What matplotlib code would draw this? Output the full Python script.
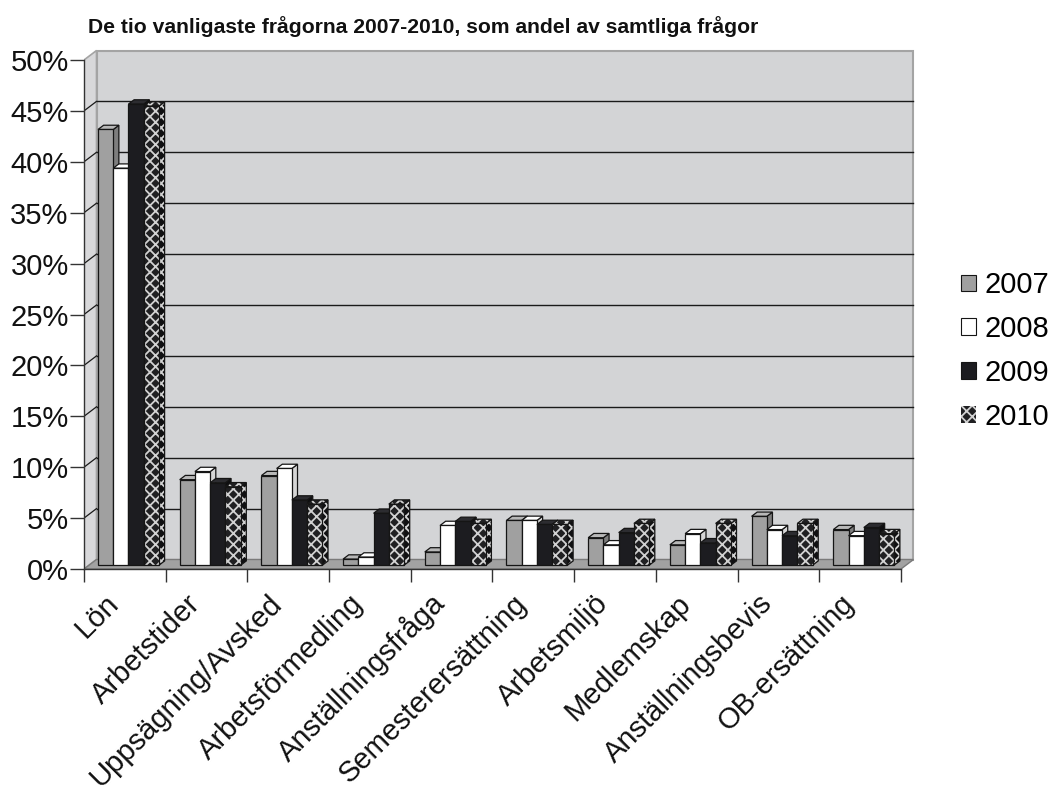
import matplotlib
matplotlib.use('Agg')
import matplotlib.pyplot as plt
from matplotlib.patches import Polygon, Patch
from matplotlib.transforms import offset_copy

plt.rcParams['font.family'] = ['Liberation Sans', 'DejaVu Sans']
plt.rcParams['hatch.color'] = '#d2d2d2'
plt.rcParams['hatch.linewidth'] = 1.3

# data (percent of all questions)
categories = ['Lön', 'Arbetstider', 'Uppsägning/Avsked', 'Arbetsförmedling',
              'Anställningsfråga', 'Semesterersättning', 'Arbetsmiljö',
              'Medlemskap', 'Anställningsbevis', 'OB-ersättning']
years = ['2007', '2008', '2009', '2010']
v2007 = [42.8, 8.4, 8.8, 0.6, 1.3, 4.4, 2.7, 2.0, 4.8, 3.5]
v2008 = [39.0, 9.2, 9.5, 0.8, 3.9, 4.4, 2.0, 3.1, 3.5, 2.9]
v2009 = [45.3, 8.1, 6.4, 5.1, 4.3, 4.0, 3.2, 2.2, 2.9, 3.7]
v2010 = [45.1, 7.7, 6.0, 6.0, 4.1, 4.0, 4.1, 4.1, 4.1, 3.1]
yticks = list(range(0, 55, 5))
title = 'De tio vanligaste frågorna 2007-2010, som andel av samtliga frågor'

series = [v2007, v2008, v2009, v2010]
# (front, top, side, hatch) per series
styles = [('#a0a0a0', '#b8b8b8', '#7e7e7e', None),
          ('#ffffff', '#ffffff', '#d6d6d6', None),
          ('#1c1c20', '#2c2c30', '#0e0e10', None),
          ('#202022', '#202022', '#101012', 'xxx')]
edge = '#151515'
lw = 0.9

# pixel layout of the front plane
W, H = 1059, 787
X0, X1 = 84, 901
Y0, Y50 = 569, 60
RIGHT, TOP = 925, 40
sx = (X1 - X0) / 10.0
sy = (Y0 - Y50) / 50.0

fig = plt.figure(figsize=(W / 100, H / 100), dpi=100)
ax = fig.add_axes([X0 / W, (H - Y0) / H, (RIGHT - X0) / W, (Y0 - TOP) / H])
ax.set_xlim(0, (RIGHT - X0) / sx)
ax.set_ylim(0, (Y0 - TOP) / sy)

# depth of the box and of the bars, in data units
DX, DY = 12.5 / sx, 9.5 / sy
F = 0.4          # depth position of bar front faces
BD = 0.45        # bar depth as share of box depth
bdx, bdy = BD * DX, BD * DY
BW = 15.25 / sx
G0 = 0.11

# walls and floor
ymax = yticks[-1]
ax.add_patch(Polygon([(DX, DY), (10 + DX, DY), (10 + DX, ymax + DY), (DX, ymax + DY)],
                     facecolor='#d3d4d6', edgecolor='#a4a4a4', lw=1.5, zorder=0))
ax.add_patch(Polygon([(0, 0), (DX, DY), (DX, ymax + DY), (0, ymax)],
                     facecolor='#d8d8da', edgecolor='#a4a4a4', lw=1.2, zorder=0.5))
ax.add_patch(Polygon([(0, 0), (10, 0), (10 + DX, DY), (DX, DY)],
                     facecolor='#a2a2a2', edgecolor='#7a7a7a', lw=1.0, zorder=1))

for v in yticks[1:-1]:
    ax.plot([DX, 10 + DX], [v + DY, v + DY], color='#1a1a1a', lw=1.0, zorder=1.5)
    ax.plot([0, DX], [v, v + DY], color='#1a1a1a', lw=0.9, zorder=1.5)

# bars: side, top, front drawn left to right so the next bar hides the side face
for j, vals in enumerate(series):
    front, topc, side, hatch = styles[j]
    xs = [i + G0 + j * BW + F * DX for i in range(len(categories))]
    y0 = F * DY
    if hatch:
        bars = ax.bar(xs, vals, width=BW, bottom=y0, align='edge',
                      color=front, hatch=hatch, lw=0)
        outl = ax.bar(xs, vals, width=BW, bottom=y0, align='edge',
                      fill=False, edgecolor=edge, lw=lw)
    else:
        bars = ax.bar(xs, vals, width=BW, bottom=y0, align='edge',
                      color=front, edgecolor=edge, lw=lw)
        outl = [None] * len(xs)
    for i, (x, h) in enumerate(zip(xs, vals)):
        z = 2 + i * 20 + j * 4
        sidep = [(x + BW, y0), (x + BW + bdx, y0 + bdy),
                 (x + BW + bdx, y0 + h + bdy), (x + BW, y0 + h)]
        topp = [(x, y0 + h), (x + bdx, y0 + h + bdy),
                (x + BW + bdx, y0 + h + bdy), (x + BW, y0 + h)]
        if hatch:
            ax.add_patch(Polygon(sidep, facecolor=side, hatch=hatch, lw=0, zorder=z))
            ax.add_patch(Polygon(sidep, fill=False, edgecolor=edge, lw=lw, zorder=z + 0.5))
            ax.add_patch(Polygon(topp, facecolor=topc, hatch=hatch, lw=0, zorder=z + 1))
            ax.add_patch(Polygon(topp, fill=False, edgecolor=edge, lw=lw, zorder=z + 1.5))
        else:
            ax.add_patch(Polygon(sidep, facecolor=side, edgecolor=edge, lw=lw, zorder=z))
            ax.add_patch(Polygon(topp, facecolor=topc, edgecolor=edge, lw=lw, zorder=z + 1))
        bars[i].set_zorder(z + 2)
        if outl[i] is not None:
            outl[i].set_zorder(z + 2.5)

# axes
for s in ['top', 'right']:
    ax.spines[s].set_visible(False)
ax.spines['left'].set_bounds(0, ymax)
ax.spines['bottom'].set_bounds(0, 10)
for s in ['left', 'bottom']:
    ax.spines[s].set_color('#333333')
    ax.spines[s].set_linewidth(1.0)
    ax.spines[s].set_zorder(300)
ax.set_yticks(yticks, labels=['{}%'.format(v) for v in yticks])
ax.tick_params(axis='y', length=10, width=1.0, color='#333333', labelsize=21, pad=1,
               labelcolor='#111111')
ax.set_xticks([])
ax.set_xticks(range(11), minor=True)
ax.tick_params(axis='x', which='minor', length=9, width=1.0, color='#333333')

lab_tr = offset_copy(ax.transData, fig=fig, x=-5, y=-36, units='dots')
for i, c in enumerate(categories):
    ax.text(i + 0.5, 0, c, transform=lab_tr, rotation=45, ha='right', va='baseline',
            rotation_mode='anchor', fontsize=21, color='#111111')

handles = [Patch(facecolor=styles[j][0], edgecolor=edge, lw=0.8) for j in range(3)]
handles.append(Patch(facecolor=styles[3][0], hatch='xxx'))
fig.legend(handles, years, loc='center left', bbox_to_anchor=(961 / W, 1 - 351 / H),
           frameon=False, fontsize=21, handlelength=0.5, handleheight=0.5,
           handletextpad=0.3, labelspacing=0.54, borderpad=0, borderaxespad=0)

fig.text(88 / W, 1 - 27 / H, title, fontsize=15.2, fontweight='bold',
         ha='left', va='center', color='#111111')

fig.savefig('out.png', dpi=100)
